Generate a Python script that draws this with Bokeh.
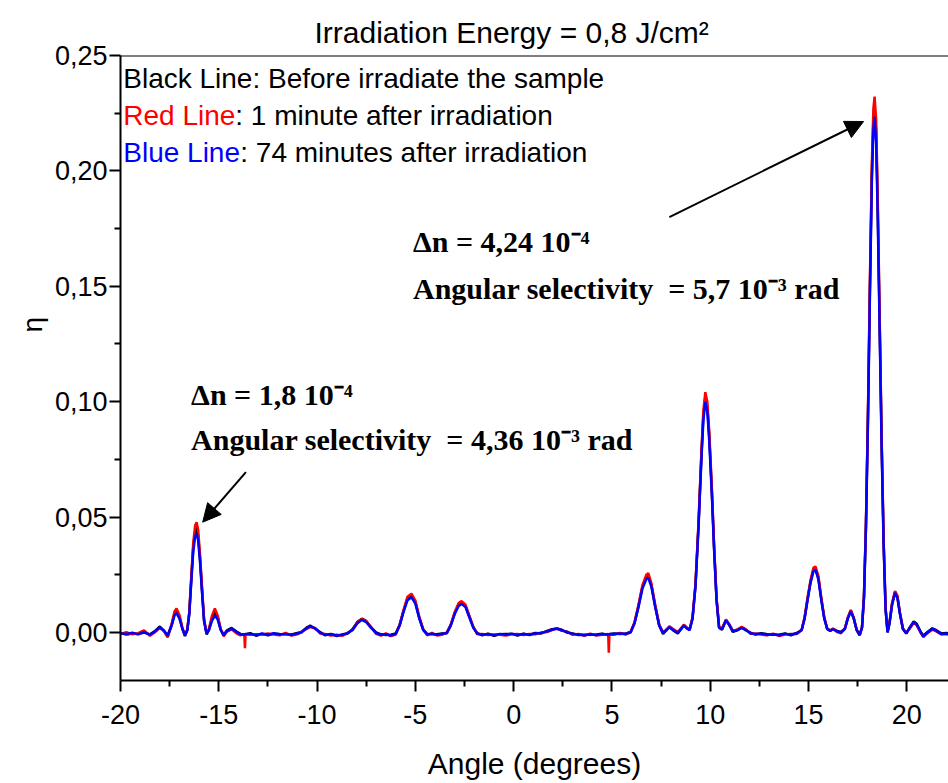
from bokeh.plotting import figure
from bokeh.models import (Range1d, FixedTicker, CustomJSTickFormatter, Label,
                          Arrow, NormalHead, Span, Title)
from bokeh.embed import file_html
from bokeh.resources import INLINE

# ---------------- data ----------------
angle = [
    -20.00, -19.70, -19.40, -19.10, -18.80, -18.50, -18.25, -18.00,
    -17.80, -17.60, -17.40, -17.25, -17.15, -17.00, -16.85, -16.72,
    -16.60, -16.50, -16.40, -16.30, -16.20, -16.13, -16.05, -15.95,
    -15.85, -15.75, -15.62, -15.50, -15.35, -15.20, -15.05, -14.90,
    -14.75, -14.60, -14.35, -14.10, -13.90, -13.70, -13.67, -13.64,
    -13.40, -13.10, -12.80, -12.50, -12.20, -11.90, -11.60, -11.30,
    -11.00, -10.80, -10.55, -10.35, -10.10, -9.85, -9.60, -9.30,
    -9.00, -8.70, -8.45, -8.20, -7.95, -7.72, -7.50, -7.25,
    -7.00, -6.75, -6.50, -6.25, -6.00, -5.80, -5.60, -5.40,
    -5.20, -5.00, -4.80, -4.60, -4.40, -4.15, -3.90, -3.65,
    -3.40, -3.20, -3.00, -2.80, -2.65, -2.45, -2.25, -2.05,
    -1.85, -1.60, -1.30, -1.00, -0.70, -0.40, -0.10, 0.20,
    0.50, 0.80, 1.10, 1.40, 1.70, 1.95, 2.20, 2.45,
    2.70, 3.00, 3.30, 3.60, 3.90, 4.20, 4.50, 4.81,
    4.84, 4.87, 5.10, 5.40, 5.70, 5.95, 6.15, 6.35,
    6.55, 6.75, 6.85, 7.00, 7.20, 7.40, 7.60, 7.78,
    7.92, 8.10, 8.35, 8.55, 8.66, 8.80, 8.95, 9.10,
    9.25, 9.40, 9.55, 9.65, 9.75, 9.85, 9.95, 10.08,
    10.20, 10.32, 10.45, 10.60, 10.80, 10.95, 11.15, 11.35,
    11.60, 11.80, 12.05, 12.30, 12.60, 12.90, 13.20, 13.50,
    13.80, 14.10, 14.40, 14.65, 14.80, 14.95, 15.10, 15.25,
    15.35, 15.50, 15.65, 15.80, 15.95, 16.10, 16.25, 16.45,
    16.65, 16.85, 17.00, 17.15, 17.30, 17.45, 17.60, 17.72,
    17.82, 17.92, 18.02, 18.12, 18.22, 18.30, 18.36, 18.44,
    18.52, 18.62, 18.72, 18.82, 18.92, 19.02, 19.12, 19.25,
    19.40, 19.52, 19.65, 19.80, 19.97, 20.15, 20.35, 20.50,
    20.70, 20.84, 21.05, 21.30, 21.50, 21.75, 22.00, 22.20,
]

eta_74min = [  # blue
    -0.0003, -0.0006, -0.0001, -0.0008, 0.0002, -0.0010, 0.0004, 0.0022,
    0.0010, -0.0012, 0.0030, 0.0075, 0.0084, 0.0060, 0.0015, -0.0012,
    0.0010, 0.0080, 0.0220, 0.0350, 0.0418, 0.0430, 0.0400, 0.0300,
    0.0170, 0.0050, -0.0006, 0.0010, 0.0050, 0.0074, 0.0055, 0.0010,
    -0.0012, 0.0005, 0.0017, 0.0002, -0.0008, -0.0010, -0.0008, -0.0006,
    -0.0005, -0.0012, -0.0004, -0.0010, -0.0003, -0.0009, -0.0006, -0.0011,
    -0.0004, 0.0000, 0.0018, 0.0027, 0.0018, 0.0000, -0.0010, -0.0008,
    -0.0013, -0.0010, -0.0003, 0.0010, 0.0040, 0.0055, 0.0045, 0.0020,
    -0.0002, -0.0010, -0.0008, -0.0013, -0.0006, 0.0030, 0.0090, 0.0140,
    0.0153, 0.0125, 0.0060, 0.0010, -0.0008, -0.0005, -0.0010, -0.0006,
    -0.0002, 0.0030, 0.0080, 0.0115, 0.0124, 0.0110, 0.0065, 0.0020,
    -0.0005, -0.0010, -0.0007, -0.0012, -0.0006, -0.0010, -0.0005, -0.0011,
    -0.0007, -0.0009, -0.0004, -0.0002, 0.0005, 0.0012, 0.0016, 0.0010,
    0.0002, -0.0006, -0.0009, -0.0012, -0.0008, -0.0011, -0.0007, -0.0009,
    -0.0008, -0.0007, -0.0006, -0.0004, -0.0006, 0.0000, 0.0040, 0.0110,
    0.0190, 0.0232, 0.0237, 0.0200, 0.0110, 0.0030, -0.0002, 0.0010,
    0.0023, 0.0012, -0.0002, 0.0018, 0.0030, 0.0018, 0.0010, 0.0060,
    0.0200, 0.0450, 0.0750, 0.0920, 0.0998, 0.0960, 0.0830, 0.0600,
    0.0350, 0.0140, 0.0020, 0.0015, 0.0052, 0.0035, 0.0005, 0.0008,
    0.0020, 0.0012, -0.0003, -0.0007, -0.0005, -0.0010, -0.0008, -0.0012,
    -0.0006, -0.0009, -0.0004, 0.0010, 0.0060, 0.0140, 0.0215, 0.0265,
    0.0272, 0.0230, 0.0140, 0.0060, 0.0015, 0.0008, 0.0014, 0.0005,
    0.0000, 0.0015, 0.0060, 0.0092, 0.0060, 0.0010, -0.0009, 0.0020,
    0.0150, 0.0450, 0.0900, 0.1450, 0.1950, 0.2180, 0.2234, 0.2120,
    0.1800, 0.1300, 0.0800, 0.0380, 0.0100, 0.0000, 0.0040, 0.0120,
    0.0172, 0.0150, 0.0080, 0.0015, -0.0003, 0.0020, 0.0045, 0.0035,
    0.0002, -0.0017, 0.0000, 0.0016, 0.0008, -0.0006, -0.0004, -0.0008,
]

eta_1min = [  # red
    -0.0006, 0.0001, -0.0008, -0.0003, 0.0009, -0.0014, 0.0001, 0.0020,
    0.0006, -0.0016, 0.0036, 0.0092, 0.0104, 0.0076, 0.0020, -0.0010,
    0.0014, 0.0090, 0.0242, 0.0388, 0.0465, 0.0478, 0.0445, 0.0332,
    0.0190, 0.0058, -0.0004, 0.0016, 0.0072, 0.0104, 0.0072, 0.0014,
    -0.0016, 0.0002, 0.0014, -0.0004, -0.0012, -0.0006, -0.0068, -0.0008,
    -0.0010, -0.0008, -0.0010, -0.0004, -0.0009, -0.0012, -0.0002, -0.0013,
    -0.0008, 0.0003, 0.0014, 0.0024, 0.0020, -0.0004, -0.0006, -0.0013,
    -0.0010, -0.0014, -0.0001, 0.0012, 0.0044, 0.0058, 0.0048, 0.0024,
    -0.0006, -0.0013, -0.0004, -0.0016, -0.0009, 0.0034, 0.0098, 0.0155,
    0.0168, 0.0138, 0.0068, 0.0014, -0.0012, -0.0002, -0.0013, -0.0010,
    0.0001, 0.0034, 0.0088, 0.0128, 0.0136, 0.0121, 0.0072, 0.0024,
    -0.0008, -0.0006, -0.0011, -0.0009, -0.0010, -0.0013, -0.0008, -0.0007,
    -0.0011, -0.0006, -0.0008, 0.0000, 0.0002, 0.0010, 0.0019, 0.0007,
    0.0005, -0.0010, -0.0006, -0.0014, -0.0005, -0.0013, -0.0010, -0.0007,
    -0.0088, -0.0009, -0.0010, -0.0002, -0.0009, 0.0003, 0.0045, 0.0120,
    0.0205, 0.0250, 0.0257, 0.0215, 0.0120, 0.0036, 0.0000, 0.0014,
    0.0027, 0.0016, 0.0002, 0.0022, 0.0034, 0.0022, 0.0014, 0.0066,
    0.0212, 0.0470, 0.0782, 0.0960, 0.1041, 0.1000, 0.0868, 0.0630,
    0.0370, 0.0150, 0.0024, 0.0018, 0.0056, 0.0038, 0.0008, 0.0012,
    0.0024, 0.0015, -0.0006, -0.0004, -0.0009, -0.0012, -0.0005, -0.0015,
    -0.0009, -0.0006, -0.0007, 0.0012, 0.0066, 0.0150, 0.0226, 0.0280,
    0.0286, 0.0245, 0.0150, 0.0066, 0.0018, 0.0010, 0.0017, 0.0002,
    -0.0003, 0.0018, 0.0066, 0.0098, 0.0064, 0.0012, -0.0011, 0.0024,
    0.0158, 0.0470, 0.0940, 0.1510, 0.2030, 0.2270, 0.2322, 0.2220,
    0.1880, 0.1360, 0.0840, 0.0400, 0.0106, 0.0002, 0.0044, 0.0128,
    0.0180, 0.0160, 0.0086, 0.0018, -0.0001, 0.0017, 0.0042, 0.0032,
    -0.0001, -0.0020, -0.0003, 0.0013, 0.0005, -0.0009, -0.0007, -0.0010,
]

eta_before = [  # black
    -0.0002, -0.0009, -0.0004, -0.0006, 0.0000, -0.0008, 0.0006, 0.0026,
    0.0008, -0.0020, 0.0032, 0.0082, 0.0094, 0.0068, 0.0016, -0.0016,
    0.0012, 0.0085, 0.0230, 0.0368, 0.0440, 0.0455, 0.0420, 0.0315,
    0.0180, 0.0054, -0.0008, 0.0012, 0.0060, 0.0090, 0.0064, 0.0012,
    -0.0010, 0.0008, 0.0020, 0.0004, -0.0006, -0.0012, -0.0010, -0.0008,
    -0.0003, -0.0014, -0.0006, -0.0012, -0.0005, -0.0007, -0.0008, -0.0009,
    -0.0002, 0.0002, 0.0020, 0.0030, 0.0016, 0.0002, -0.0012, -0.0006,
    -0.0015, -0.0008, -0.0005, 0.0014, 0.0046, 0.0060, 0.0050, 0.0022,
    0.0000, -0.0008, -0.0011, -0.0010, -0.0004, 0.0032, 0.0094, 0.0148,
    0.0160, 0.0131, 0.0064, 0.0012, -0.0006, -0.0008, -0.0008, -0.0004,
    -0.0003, 0.0032, 0.0084, 0.0121, 0.0130, 0.0115, 0.0068, 0.0022,
    -0.0003, -0.0012, -0.0005, -0.0014, -0.0008, -0.0007, -0.0006, -0.0013,
    -0.0005, -0.0011, -0.0002, -0.0004, 0.0007, 0.0014, 0.0017, 0.0012,
    0.0000, -0.0004, -0.0011, -0.0010, -0.0010, -0.0009, -0.0005, -0.0011,
    -0.0010, -0.0008, -0.0004, -0.0006, -0.0004, 0.0002, 0.0042, 0.0115,
    0.0198, 0.0240, 0.0246, 0.0208, 0.0115, 0.0033, -0.0006, 0.0012,
    0.0025, 0.0010, -0.0004, 0.0020, 0.0032, 0.0020, 0.0012, 0.0063,
    0.0206, 0.0460, 0.0766, 0.0940, 0.1020, 0.0980, 0.0850, 0.0615,
    0.0360, 0.0145, 0.0022, 0.0012, 0.0054, 0.0036, 0.0003, 0.0010,
    0.0022, 0.0010, -0.0001, -0.0009, -0.0003, -0.0008, -0.0010, -0.0010,
    -0.0004, -0.0012, -0.0002, 0.0011, 0.0063, 0.0145, 0.0220, 0.0272,
    0.0279, 0.0238, 0.0145, 0.0063, 0.0016, 0.0006, 0.0016, 0.0007,
    0.0002, 0.0017, 0.0063, 0.0095, 0.0062, 0.0011, -0.0013, 0.0022,
    0.0154, 0.0460, 0.0920, 0.1480, 0.1990, 0.2225, 0.2280, 0.2170,
    0.1840, 0.1330, 0.0820, 0.0390, 0.0103, 0.0001, 0.0042, 0.0124,
    0.0176, 0.0155, 0.0083, 0.0016, -0.0005, 0.0022, 0.0048, 0.0038,
    0.0004, -0.0014, 0.0002, 0.0018, 0.0010, -0.0004, -0.0002, -0.0006,
]

x_major = [-20, -15, -10, -5, 0, 5, 10, 15, 20]
x_minor = [-17.5, -12.5, -7.5, -2.5, 2.5, 7.5, 12.5, 17.5]
y_major = [0.0, 0.05, 0.10, 0.15, 0.20, 0.25]
y_minor = [0.025, 0.075, 0.125, 0.175, 0.225]

title_text = "Irradiation Energy = 0,8 J/cm²"
x_label = "Angle (degrees)"
y_label = "η"

assert len(angle) == len(eta_74min) == len(eta_1min) == len(eta_before)

SANS = "Liberation Sans"
SERIF = "Liberation Serif"
NB = "\u00a0"

p = figure(width=948, height=783, output_backend="svg", toolbar_location=None,
           x_range=Range1d(-20, 22.12), y_range=Range1d(-0.0208, 0.25),
           min_border_left=120, min_border_right=0, min_border_top=55,
           min_border_bottom=103, background_fill_color="white",
           border_fill_color="white")

p.outline_line_color = None
p.grid.grid_line_color = None

# title
p.title.text = title_text
p.title.text_font = SANS
p.title.text_font_size = "30px"
p.title.text_font_style = "normal"
p.title.text_color = "black"
p.title.align = "left"
p.title.offset = 194
p.title.standoff = 13

# axes
for ax in (p.xaxis[0], p.yaxis[0]):
    ax.axis_line_width = 2
    ax.axis_line_color = "black"
    ax.major_tick_line_width = 2
    ax.minor_tick_line_width = 2
    ax.major_tick_in = 0
    ax.major_tick_out = 11
    ax.minor_tick_in = 0
    ax.minor_tick_out = 6
    ax.major_label_text_font = SANS
    ax.major_label_text_font_size = "27px"
    ax.major_label_text_color = "black"

p.xaxis.ticker = FixedTicker(ticks=x_major, minor_ticks=x_minor)
p.yaxis.ticker = FixedTicker(ticks=y_major, minor_ticks=y_minor)
p.xaxis.formatter = CustomJSTickFormatter(code="return String(tick);")
p.yaxis.formatter = CustomJSTickFormatter(code="return tick.toFixed(2).replace('.', ',');")
p.xaxis.major_label_standoff = 13
p.yaxis.major_label_standoff = 2

p.xaxis.axis_label = x_label
p.xaxis.axis_label_text_font = SANS
p.xaxis.axis_label_text_font_size = "30px"
p.xaxis.axis_label_text_font_style = "normal"
p.xaxis.axis_label_text_color = "black"
p.xaxis.axis_label_standoff = 20

# y label as a vertical title on the left, placed like the reference
p.add_layout(Title(text=y_label, align="left", offset=348, text_font=SANS,
                   text_font_size="28px", text_font_style="normal",
                   text_color="black", standoff=8), "left")

# top frame line
p.add_layout(Span(location=0.25, dimension="width", line_color="black", line_width=2))

# curves
p.line(angle, eta_before, line_color="black", line_width=2.5)
p.line(angle, eta_1min, line_color="#ff0000", line_width=2.5)
p.line(angle, eta_74min, line_color="#0000ff", line_width=2.5)

# legend-like text
LEG = "28px"
legend_y = [0.2400, 0.2240, 0.2079]
lx = -19.86
p.add_layout(Label(x=lx, y=legend_y[0], text="Black Line: Before irradiate the sample",
                   text_font=SANS, text_font_size=LEG, text_color="black",
                   text_baseline="alphabetic"))
p.add_layout(Label(x=lx, y=legend_y[1], text="Red Line", text_font=SANS,
                   text_font_size=LEG, text_color="#ff0000", text_baseline="alphabetic"))
p.add_layout(Label(x=lx, y=legend_y[1], x_offset=112, text=": 1 minute after irradiation",
                   text_font=SANS, text_font_size=LEG, text_color="black",
                   text_baseline="alphabetic"))
p.add_layout(Label(x=lx, y=legend_y[2], text="Blue Line", text_font=SANS,
                   text_font_size=LEG, text_color="#0000ff", text_baseline="alphabetic"))
p.add_layout(Label(x=lx, y=legend_y[2], x_offset=117, text=": 74 minutes after irradiation",
                   text_font=SANS, text_font_size=LEG, text_color="black",
                   text_baseline="alphabetic"))

# annotations
ANN = "30px"
for (ax_, ay_, txt) in [
    (-5.12, 0.1696, "Δn = 4,24 10⁻⁴"),
    (-5.12, 0.1492, "Angular selectivity " + NB + "= 5,7 10⁻³ rad"),
    (-16.41, 0.1030, "Δn = 1,8 10⁻⁴"),
    (-16.41, 0.0836, "Angular selectivity " + NB + "= 4,36 10⁻³ rad"),
]:
    p.add_layout(Label(x=ax_, y=ay_, text=txt, text_font=SERIF, text_font_style="bold",
                       text_font_size=ANN, text_color="black", text_baseline="alphabetic"))

# arrows
p.add_layout(Arrow(end=NormalHead(size=18, fill_color="black", line_color="black"),
                   x_start=7.92, y_start=0.180, x_end=17.8, y_end=0.2214,
                   line_width=2, line_color="black"))
p.add_layout(Arrow(end=NormalHead(size=18, fill_color="black", line_color="black"),
                   x_start=-13.62, y_start=0.0695, x_end=-15.82, y_end=0.0478,
                   line_width=2, line_color="black"))

open("out.html", "w").write(file_html(p, INLINE))
